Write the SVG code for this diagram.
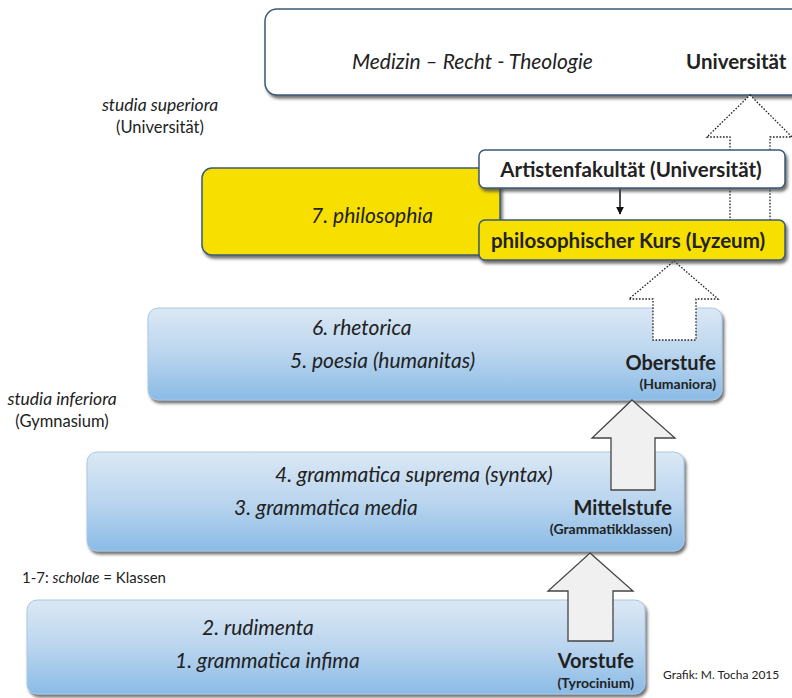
<svg xmlns="http://www.w3.org/2000/svg" width="792" height="698" viewBox="0 0 792 698">
<defs>
<linearGradient id="blue" x1="0" y1="0" x2="0" y2="1">
<stop offset="0" stop-color="#dbe8f5"/>
<stop offset="0.5" stop-color="#bad5ee"/>
<stop offset="1" stop-color="#8abbe6"/>
</linearGradient>
<filter id="sh" x="-5%" y="-10%" width="115%" height="130%">
<feDropShadow dx="2" dy="3" stdDeviation="1.5" flood-color="#444" flood-opacity="0.75"/>
</filter>
<marker id="ah" viewBox="0 0 10 10" refX="9" refY="5" markerWidth="8" markerHeight="8" orient="auto" markerUnits="userSpaceOnUse">
<path d="M0,0 L10,5 L0,10 z" fill="#111"/>
</marker>
</defs>
<style>
text{font-family:Lato,"Open Sans","Liberation Sans",sans-serif;fill:#222}
.it{font-style:italic;font-size:21px}
.b{font-weight:bold;font-size:20px}
.sm{font-weight:bold;font-size:14px}
.stage{fill:url(#blue);stroke:#a9c8e6;stroke-width:1;filter:url(#sh)}
.white{fill:#fff;stroke:#3b5a78;stroke-width:1.5;filter:url(#sh)}
.yellow{fill:#f7e000;stroke:#3b5a78;stroke-width:1.5;filter:url(#sh)}
.dot{fill:#fff;stroke:#222;stroke-width:1.3;stroke-dasharray:1.6 1.6}
.solid{fill:#f0f0f0;stroke:#444;stroke-width:1.3}
</style>
<rect width="792" height="698" fill="#fff"/>

<g id="labels">
<text x="160" y="111" text-anchor="middle" style="font-size:17.5px;font-style:italic">studia superiora</text>
<text x="160" y="133" text-anchor="middle" style="font-size:16.5px">(Universität)</text>
<text x="62" y="405" text-anchor="middle" style="font-size:17.5px;font-style:italic">studia inferiora</text>
<text x="62" y="427" text-anchor="middle" style="font-size:16.5px">(Gymnasium)</text>
<text x="22" y="583" style="font-size:15px">1-7: <tspan font-style="italic">scholae</tspan> = Klassen</text>
<text x="663" y="679" style="font-size:12px">Grafik: M. Tocha 2015</text>
</g>

<g id="universitaet">
<rect class="white" x="265" y="9" width="545" height="86" rx="12"/>
<text class="it" x="352" y="69">Medizin – Recht - Theologie</text>
<text class="b" x="686" y="69" style="font-size:20.5px">Universität</text>
</g>

<g id="oberstufe">
<rect class="stage" x="148" y="308" width="574" height="92" rx="10"/>
<text class="it" x="312" y="335">6. rhetorica</text>
<text class="it" x="290" y="368">5. poesia (humanitas)</text>
<text class="b" x="716" y="370" text-anchor="end">Oberstufe</text>
<text class="sm" x="716" y="389" text-anchor="end">(Humaniora)</text>
</g>

<g id="mittelstufe">
<rect class="stage" x="87" y="452" width="597" height="99" rx="10"/>
<text class="it" x="275" y="482">4. grammatica suprema (syntax)</text>
<text class="it" x="234" y="515">3. grammatica media</text>
<text class="b" x="672" y="515" text-anchor="end">Mittelstufe</text>
<text class="sm" x="672" y="534" text-anchor="end">(Grammatikklassen)</text>
</g>

<g id="vorstufe">
<rect class="stage" x="27" y="600" width="618" height="94" rx="10"/>
<text class="it" x="202" y="635">2. rudimenta</text>
<text class="it" x="175" y="668">1. grammatica infima</text>
<text class="b" x="634" y="668" text-anchor="end">Vorstufe</text>
<text class="sm" x="634" y="688" text-anchor="end">(Tyrocinium)</text>
</g>

<g id="philosophia">
<rect class="yellow" x="202" y="168" width="298" height="87" rx="10"/>
<text class="it" x="372" y="223" text-anchor="middle">7. philosophia</text>
</g>

<g id="connectors">
<polygon class="dot" points="750,95 792,137 770,137 770,224 730,224 730,137 707,137"/>
<polygon class="dot" points="674,261 718,299 696,299 696,340 653,340 653,299 629,299"/>
<polygon class="solid" points="632,400 675,438 655,438 655,490 611,490 611,438 592,438"/>
<polygon class="solid" points="590,553 633,591 613,591 613,641 568,641 568,591 548,591"/>
<line x1="620" y1="188" x2="620" y2="214" stroke="#111" stroke-width="1.5" marker-end="url(#ah)"/>
</g>

<g id="artistenfakultaet">
<rect class="white" x="479" y="150" width="306" height="38" rx="6"/>
<text class="b" x="631" y="177" text-anchor="middle" style="font-size:20.5px">Artistenfakultät (Universität)</text>
</g>

<g id="philosophischer-kurs">
<rect class="yellow" x="479" y="220" width="306" height="40" rx="6"/>
<text class="b" x="628" y="248" text-anchor="middle" style="font-size:20.5px">philosophischer Kurs (Lyzeum)</text>
</g>
</svg>
